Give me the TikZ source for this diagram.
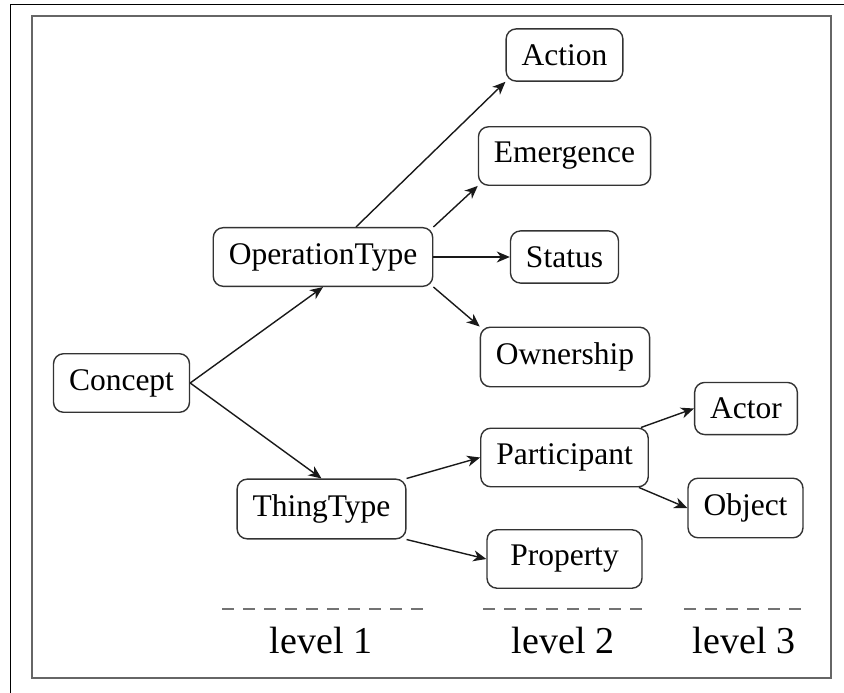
\documentclass[tikz,border=0pt]{standalone}
\usepackage{fontspec}
\setmainfont{Liberation Serif}
\usetikzlibrary{arrows.meta}
\begin{document}
\begin{tikzpicture}[x=1pt,y=-1pt,
  box/.style={draw=black!80, line width=1.4pt, rounded corners=10pt, fill=white,
    inner xsep=15.5pt, inner ysep=15.5pt, font=\fontsize{31.5}{36}\selectfont},
  conn/.style={draw=black!90, line width=1.4pt, -{Stealth[length=13pt,width=11pt,inset=4pt]}},
  lvl/.style={font=\fontsize{38}{44}\selectfont, inner sep=0pt},
  levelrule/.style={draw=black!55, line width=1.5pt, dash pattern=on 12pt off 9pt}
]
\useasboundingbox (0,0) rectangle (844,693);
\draw[black, line width=1pt] (10,693) -- (10,5) -- (844,5);
\draw[black!60, line width=2pt] (32,16.5) rectangle (831,678);

\node[box] (Concept) at (121.5,383) {Concept};
\node[box] (OperationType) at (323,257) {OperationType};
\node[box] (ThingType) at (321.5,509) {ThingType};
\node[box] (Action) at (564.5,55) {Action};
\node[box] (Emergence) at (564.5,156) {Emergence};
\node[box] (Status) at (564.5,257) {Status};
\node[box] (Ownership) at (565,357) {Ownership};
\node[box] (Participant) at (564.5,457.5) {Participant};
\node[box, minimum width=155pt] (Property) at (564.5,559) {Property};
\node[box] (Actor) at (746,408.5) {Actor};
\node[box] (Object) at (745.5,508) {Object};

\draw[conn] (Concept.east) -- (OperationType.south);
\draw[conn] (Concept.east) -- (ThingType.north);
\draw[conn] ([xshift=33pt]OperationType.north) -- (Action.south west);
\draw[conn] (OperationType.north east) -- (Emergence.south west);
\draw[conn] (OperationType.east) -- (Status.west);
\draw[conn] (OperationType.south east) -- (Ownership.north west);
\draw[conn] (ThingType.north east) -- (Participant.west);
\draw[conn] (ThingType.south east) -- (Property.west);
\draw[conn] ([xshift=-8pt]Participant.north east) -- (Actor.west);
\draw[conn] ([xshift=-10pt]Participant.south east) -- (Object.west);

\coordinate (r1a) at (222,609); \coordinate (r1b) at (425,609);
\coordinate (r2a) at (483,609); \coordinate (r2b) at (643,609);
\coordinate (r3a) at (684,609); \coordinate (r3b) at (803,609);
\draw[levelrule] (r1a) -- (r1b);
\draw[levelrule] (r2a) -- (r2b);
\draw[levelrule] (r3a) -- (r3b);

\node[lvl] (L1) at (321,640) {level 1};
\node[lvl] (L2) at (563,640) {level 2};
\node[lvl] (L3) at (744,640) {level 3};
\end{tikzpicture}
\end{document}
